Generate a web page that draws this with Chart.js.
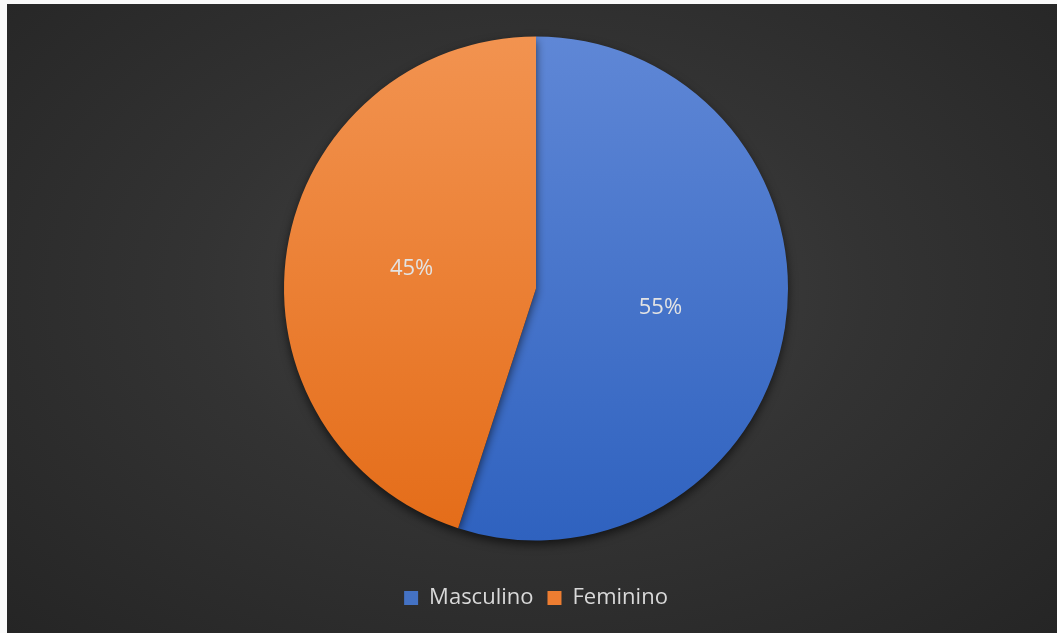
<!DOCTYPE html>
<html>
<head>
<meta charset="utf-8">
<script src="https://cdn.jsdelivr.net/npm/chart.js@4/dist/chart.umd.min.js"></script>
<style>
  html, body { margin: 0; padding: 0; background: #fafafa; width: 1057px; height: 633px; overflow: hidden; }
  #frame { position: absolute; left: 7px; top: 4px; width: 1050px; height: 629px;
    background: radial-gradient(ellipse at 50% 45%, #434343 0%, #333333 45%, #252525 100%); }
  #c { display: block; }
</style>
</head>
<body>
<div id="frame"><canvas id="c" width="1050" height="629"></canvas></div>
<script>
const categories = ['Masculino', 'Feminino'];
const values = [55, 45];
const percentLabels = ['55%', '45%'];
const baseColors = ['#4472C4', '#ED7D31'];
const topColors = ['#5f87d6', '#f29350'];
const bottomColors = ['#2f62bf', '#e46c18'];

const PIE_R = 252;

function gradFill(context) {
  const chart = context.chart;
  const a = chart.chartArea;
  const i = context.dataIndex;
  if (!a) return baseColors[i];
  const cy = (a.top + a.bottom) / 2;
  const g = chart.ctx.createLinearGradient(0, cy - PIE_R, 0, cy + PIE_R);
  g.addColorStop(0, topColors[i]);
  g.addColorStop(1, bottomColors[i]);
  return g;
}

const shadowPlugin = {
  id: 'shadow',
  beforeDatasetsDraw(chart) {
    const ctx = chart.ctx;
    ctx.save();
    ctx.shadowColor = 'rgba(0,0,0,0.6)';
    ctx.shadowBlur = 10;
    ctx.shadowOffsetX = 0;
    ctx.shadowOffsetY = 4;
  },
  afterDatasetsDraw(chart) {
    chart.ctx.restore();
  }
};

const labelPlugin = {
  id: 'pctLabels',
  afterDatasetsDraw(chart) {
    const ctx = chart.ctx;
    const meta = chart.getDatasetMeta(0);
    ctx.save();
    ctx.font = '22px "Open Sans", "Noto Sans", sans-serif';
    ctx.fillStyle = '#e3e3e3';
    ctx.textAlign = 'center';
    ctx.textBaseline = 'middle';
    meta.data.forEach((arc, i) => {
      const p = arc.tooltipPosition();
      ctx.fillText(percentLabels[i], p.x, p.y);
    });
    ctx.restore();
  }
};

new Chart(document.getElementById('c'), {
  type: 'pie',
  data: {
    labels: categories,
    datasets: [{
      data: values,
      backgroundColor: gradFill,
      borderWidth: 0,
      radius: PIE_R
    }]
  },
  options: {
    responsive: false,
    animation: false,
    layout: { padding: { top: 0, bottom: 14, left: 8, right: 0 } },
    plugins: {
      tooltip: { enabled: false },
      legend: {
        position: 'bottom',
        labels: {
          color: '#d9d9d9',
          font: { family: '"Open Sans", "Noto Sans", sans-serif', size: 22 },
          boxWidth: 14,
          boxHeight: 14,
          padding: 14,
          generateLabels(chart) {
            return categories.map((c, i) => ({
              text: c,
              fillStyle: baseColors[i],
              strokeStyle: baseColors[i],
              lineWidth: 0,
              fontColor: '#d9d9d9',
              index: i,
              hidden: false
            }));
          }
        }
      }
    }
  },
  plugins: [shadowPlugin, labelPlugin]
});
</script>
</body>
</html>
